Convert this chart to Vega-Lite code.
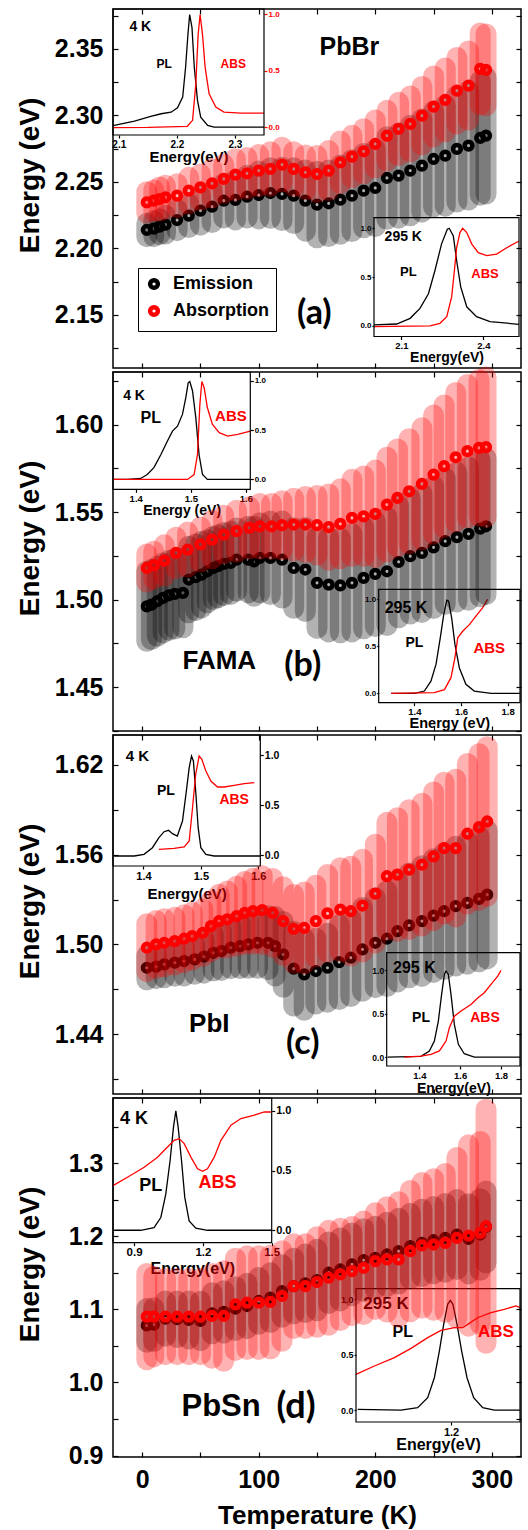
{
"$schema":"https://vega.github.io/schema/vega-lite/v6.json",
"background":"white",
"padding":{"left":15,"top":7,"right":7,"bottom":2},
"spacing":4,
"bounds":"flush",
"config":{
 "view":{"stroke":"#000","strokeWidth":1.5},
 "axis":{"labelFont":"Liberation Sans","titleFont":"Liberation Sans","labelFontWeight":"bold","titleFontWeight":"bold","grid":false,"domain":false,"labelColor":"#000","tickColor":"#000","titleColor":"#000","labelOverlap":false,"labelFlush":false,"tickWidth":1.2},
 "text":{"font":"Liberation Sans","fontWeight":"bold","align":"center","baseline":"middle"}
},
"resolve":{"scale":{"color":"independent"}},
"datasets":{
"a":[
{"s":"Emission","T":4,"E":2.2138,"err":0.005},{"s":"Emission","T":10,"E":2.2148,"err":0.006},{"s":"Emission","T":15,"E":2.2163,"err":0.006},{"s":"Emission","T":20,"E":2.2178,"err":0.007},{"s":"Emission","T":30,"E":2.2213,"err":0.008},{"s":"Emission","T":40,"E":2.2246,"err":0.009},{"s":"Emission","T":50,"E":2.2284,"err":0.011},{"s":"Emission","T":60,"E":2.2314,"err":0.012},{"s":"Emission","T":70,"E":2.2359,"err":0.013},{"s":"Emission","T":80,"E":2.2364,"err":0.015},{"s":"Emission","T":90,"E":2.2389,"err":0.016},{"s":"Emission","T":100,"E":2.2401,"err":0.018},{"s":"Emission","T":110,"E":2.2416,"err":0.019},{"s":"Emission","T":120,"E":2.2409,"err":0.02},{"s":"Emission","T":130,"E":2.2396,"err":0.021},{"s":"Emission","T":140,"E":2.2359,"err":0.023},{"s":"Emission","T":150,"E":2.2329,"err":0.025},{"s":"Emission","T":160,"E":2.2339,"err":0.025},{"s":"Emission","T":170,"E":2.2366,"err":0.026},{"s":"Emission","T":180,"E":2.2396,"err":0.027},{"s":"Emission","T":190,"E":2.2434,"err":0.028},{"s":"Emission","T":200,"E":2.2454,"err":0.029},{"s":"Emission","T":210,"E":2.2529,"err":0.031},{"s":"Emission","T":220,"E":2.2547,"err":0.032},{"s":"Emission","T":230,"E":2.2585,"err":0.034},{"s":"Emission","T":240,"E":2.2622,"err":0.035},{"s":"Emission","T":250,"E":2.2672,"err":0.036},{"s":"Emission","T":260,"E":2.2697,"err":0.038},{"s":"Emission","T":270,"E":2.2748,"err":0.04},{"s":"Emission","T":280,"E":2.2773,"err":0.041},{"s":"Emission","T":290,"E":2.283,"err":0.043},{"s":"Emission","T":295,"E":2.2848,"err":0.044},
{"s":"Absorption","T":4,"E":2.2346,"err":0.008},{"s":"Absorption","T":10,"E":2.2359,"err":0.008},{"s":"Absorption","T":15,"E":2.2371,"err":0.009},{"s":"Absorption","T":20,"E":2.2384,"err":0.009},{"s":"Absorption","T":30,"E":2.2396,"err":0.009},{"s":"Absorption","T":40,"E":2.2434,"err":0.01},{"s":"Absorption","T":50,"E":2.2459,"err":0.01},{"s":"Absorption","T":60,"E":2.2489,"err":0.011},{"s":"Absorption","T":70,"E":2.2522,"err":0.011},{"s":"Absorption","T":80,"E":2.2554,"err":0.012},{"s":"Absorption","T":90,"E":2.2564,"err":0.012},{"s":"Absorption","T":100,"E":2.2585,"err":0.012},{"s":"Absorption","T":110,"E":2.2597,"err":0.013},{"s":"Absorption","T":120,"E":2.263,"err":0.013},{"s":"Absorption","T":130,"E":2.2597,"err":0.013},{"s":"Absorption","T":140,"E":2.2572,"err":0.013},{"s":"Absorption","T":150,"E":2.2559,"err":0.014},{"s":"Absorption","T":160,"E":2.2585,"err":0.015},{"s":"Absorption","T":170,"E":2.2647,"err":0.016},{"s":"Absorption","T":180,"E":2.269,"err":0.016},{"s":"Absorption","T":190,"E":2.273,"err":0.017},{"s":"Absorption","T":200,"E":2.2785,"err":0.018},{"s":"Absorption","T":210,"E":2.2848,"err":0.019},{"s":"Absorption","T":220,"E":2.2898,"err":0.02},{"s":"Absorption","T":230,"E":2.2936,"err":0.021},{"s":"Absorption","T":240,"E":2.2998,"err":0.022},{"s":"Absorption","T":250,"E":2.3066,"err":0.023},{"s":"Absorption","T":260,"E":2.3116,"err":0.024},{"s":"Absorption","T":270,"E":2.3186,"err":0.025},{"s":"Absorption","T":280,"E":2.3224,"err":0.026},{"s":"Absorption","T":290,"E":2.335,"err":0.027},{"s":"Absorption","T":295,"E":2.3342,"err":0.027}
],
"b":[
{"s":"Emission","T":4,"E":1.4962,"err":0.02},{"s":"Emission","T":8,"E":1.4972,"err":0.02},{"s":"Emission","T":13,"E":1.4991,"err":0.02},{"s":"Emission","T":18,"E":1.501,"err":0.02},{"s":"Emission","T":23,"E":1.5025,"err":0.02},{"s":"Emission","T":28,"E":1.5033,"err":0.02},{"s":"Emission","T":35,"E":1.5039,"err":0.02},{"s":"Emission","T":40,"E":1.5115,"err":0.019},{"s":"Emission","T":46,"E":1.5128,"err":0.019},{"s":"Emission","T":51,"E":1.5143,"err":0.019},{"s":"Emission","T":56,"E":1.5162,"err":0.018},{"s":"Emission","T":61,"E":1.5181,"err":0.018},{"s":"Emission","T":65,"E":1.5191,"err":0.018},{"s":"Emission","T":70,"E":1.5204,"err":0.018},{"s":"Emission","T":76,"E":1.521,"err":0.018},{"s":"Emission","T":81,"E":1.5229,"err":0.018},{"s":"Emission","T":91,"E":1.5229,"err":0.019},{"s":"Emission","T":96,"E":1.5219,"err":0.02},{"s":"Emission","T":101,"E":1.5239,"err":0.02},{"s":"Emission","T":110,"E":1.5239,"err":0.021},{"s":"Emission","T":120,"E":1.5229,"err":0.022},{"s":"Emission","T":130,"E":1.5181,"err":0.023},{"s":"Emission","T":140,"E":1.5172,"err":0.024},{"s":"Emission","T":150,"E":1.5096,"err":0.026},{"s":"Emission","T":160,"E":1.5086,"err":0.027},{"s":"Emission","T":170,"E":1.5081,"err":0.027},{"s":"Emission","T":180,"E":1.5096,"err":0.028},{"s":"Emission","T":190,"E":1.5124,"err":0.029},{"s":"Emission","T":200,"E":1.5147,"err":0.03},{"s":"Emission","T":210,"E":1.5162,"err":0.031},{"s":"Emission","T":220,"E":1.5216,"err":0.032},{"s":"Emission","T":230,"E":1.5248,"err":0.033},{"s":"Emission","T":240,"E":1.5267,"err":0.034},{"s":"Emission","T":250,"E":1.5299,"err":0.035},{"s":"Emission","T":260,"E":1.5334,"err":0.036},{"s":"Emission","T":270,"E":1.5357,"err":0.037},{"s":"Emission","T":280,"E":1.5376,"err":0.038},{"s":"Emission","T":290,"E":1.5406,"err":0.039},{"s":"Emission","T":295,"E":1.5419,"err":0.039},
{"s":"Absorption","T":4,"E":1.5181,"err":0.008},{"s":"Absorption","T":10,"E":1.5197,"err":0.008},{"s":"Absorption","T":19,"E":1.5223,"err":0.009},{"s":"Absorption","T":29,"E":1.5267,"err":0.009},{"s":"Absorption","T":39,"E":1.5286,"err":0.01},{"s":"Absorption","T":50,"E":1.5315,"err":0.01},{"s":"Absorption","T":60,"E":1.5343,"err":0.011},{"s":"Absorption","T":70,"E":1.5372,"err":0.011},{"s":"Absorption","T":81,"E":1.5391,"err":0.012},{"s":"Absorption","T":92,"E":1.541,"err":0.012},{"s":"Absorption","T":101,"E":1.5419,"err":0.013},{"s":"Absorption","T":111,"E":1.5419,"err":0.013},{"s":"Absorption","T":120,"E":1.5425,"err":0.014},{"s":"Absorption","T":130,"E":1.5429,"err":0.015},{"s":"Absorption","T":140,"E":1.5429,"err":0.016},{"s":"Absorption","T":150,"E":1.5425,"err":0.017},{"s":"Absorption","T":160,"E":1.5414,"err":0.019},{"s":"Absorption","T":170,"E":1.5433,"err":0.02},{"s":"Absorption","T":180,"E":1.5467,"err":0.022},{"s":"Absorption","T":190,"E":1.5476,"err":0.023},{"s":"Absorption","T":200,"E":1.549,"err":0.025},{"s":"Absorption","T":210,"E":1.5543,"err":0.027},{"s":"Absorption","T":219,"E":1.5581,"err":0.028},{"s":"Absorption","T":229,"E":1.5619,"err":0.03},{"s":"Absorption","T":240,"E":1.5661,"err":0.032},{"s":"Absorption","T":250,"E":1.5714,"err":0.034},{"s":"Absorption","T":259,"E":1.5762,"err":0.035},{"s":"Absorption","T":269,"E":1.5813,"err":0.037},{"s":"Absorption","T":279,"E":1.5848,"err":0.038},{"s":"Absorption","T":289,"E":1.5867,"err":0.039},{"s":"Absorption","T":295,"E":1.5871,"err":0.04}
],
"c":[
{"s":"Emission","T":4,"E":1.4844,"err":0.008},{"s":"Emission","T":12,"E":1.4851,"err":0.008},{"s":"Emission","T":19,"E":1.4867,"err":0.009},{"s":"Emission","T":28,"E":1.4878,"err":0.009},{"s":"Emission","T":36,"E":1.4889,"err":0.01},{"s":"Emission","T":45,"E":1.49,"err":0.01},{"s":"Emission","T":53,"E":1.4918,"err":0.011},{"s":"Emission","T":61,"E":1.4944,"err":0.012},{"s":"Emission","T":68,"E":1.4956,"err":0.013},{"s":"Emission","T":76,"E":1.4978,"err":0.014},{"s":"Emission","T":84,"E":1.4989,"err":0.015},{"s":"Emission","T":91,"E":1.5,"err":0.016},{"s":"Emission","T":99,"E":1.5011,"err":0.017},{"s":"Emission","T":108,"E":1.5011,"err":0.018},{"s":"Emission","T":114,"E":1.4989,"err":0.02},{"s":"Emission","T":121,"E":1.4933,"err":0.022},{"s":"Emission","T":130,"E":1.4838,"err":0.025},{"s":"Emission","T":139,"E":1.48,"err":0.024},{"s":"Emission","T":149,"E":1.4822,"err":0.022},{"s":"Emission","T":159,"E":1.4844,"err":0.023},{"s":"Emission","T":169,"E":1.4882,"err":0.025},{"s":"Emission","T":179,"E":1.4911,"err":0.026},{"s":"Emission","T":189,"E":1.4967,"err":0.028},{"s":"Emission","T":200,"E":1.5011,"err":0.03},{"s":"Emission","T":210,"E":1.5038,"err":0.032},{"s":"Emission","T":219,"E":1.5089,"err":0.034},{"s":"Emission","T":229,"E":1.5127,"err":0.035},{"s":"Emission","T":240,"E":1.5156,"err":0.037},{"s":"Emission","T":250,"E":1.5193,"err":0.038},{"s":"Emission","T":259,"E":1.5222,"err":0.039},{"s":"Emission","T":269,"E":1.5256,"err":0.04},{"s":"Emission","T":279,"E":1.5278,"err":0.041},{"s":"Emission","T":289,"E":1.5304,"err":0.042},{"s":"Emission","T":296,"E":1.5333,"err":0.043},
{"s":"Absorption","T":4,"E":1.4978,"err":0.016},{"s":"Absorption","T":12,"E":1.5,"err":0.016},{"s":"Absorption","T":19,"E":1.5011,"err":0.016},{"s":"Absorption","T":28,"E":1.5022,"err":0.016},{"s":"Absorption","T":36,"E":1.5038,"err":0.016},{"s":"Absorption","T":43,"E":1.5056,"err":0.016},{"s":"Absorption","T":52,"E":1.5078,"err":0.016},{"s":"Absorption","T":59,"E":1.5122,"err":0.017},{"s":"Absorption","T":66,"E":1.5156,"err":0.018},{"s":"Absorption","T":73,"E":1.5167,"err":0.019},{"s":"Absorption","T":81,"E":1.5189,"err":0.02},{"s":"Absorption","T":88,"E":1.5211,"err":0.021},{"s":"Absorption","T":95,"E":1.5222,"err":0.022},{"s":"Absorption","T":103,"E":1.5229,"err":0.023},{"s":"Absorption","T":112,"E":1.5211,"err":0.023},{"s":"Absorption","T":121,"E":1.5156,"err":0.023},{"s":"Absorption","T":130,"E":1.5104,"err":0.023},{"s":"Absorption","T":139,"E":1.5111,"err":0.024},{"s":"Absorption","T":149,"E":1.5156,"err":0.024},{"s":"Absorption","T":159,"E":1.5207,"err":0.026},{"s":"Absorption","T":170,"E":1.5233,"err":0.028},{"s":"Absorption","T":179,"E":1.5222,"err":0.03},{"s":"Absorption","T":189,"E":1.526,"err":0.031},{"s":"Absorption","T":200,"E":1.534,"err":0.033},{"s":"Absorption","T":210,"E":1.5456,"err":0.036},{"s":"Absorption","T":219,"E":1.5467,"err":0.038},{"s":"Absorption","T":229,"E":1.55,"err":0.04},{"s":"Absorption","T":240,"E":1.5533,"err":0.041},{"s":"Absorption","T":250,"E":1.5589,"err":0.043},{"s":"Absorption","T":259,"E":1.5644,"err":0.044},{"s":"Absorption","T":269,"E":1.5644,"err":0.046},{"s":"Absorption","T":279,"E":1.574,"err":0.047},{"s":"Absorption","T":289,"E":1.5784,"err":0.049},{"s":"Absorption","T":296,"E":1.5822,"err":0.05}
],
"d":[
{"s":"Emission","T":4,"E":1.078,"err":0.023},{"s":"Emission","T":10,"E":1.079,"err":0.023},{"s":"Emission","T":20,"E":1.0873,"err":0.024},{"s":"Emission","T":30,"E":1.0864,"err":0.025},{"s":"Emission","T":40,"E":1.0855,"err":0.026},{"s":"Emission","T":50,"E":1.0841,"err":0.027},{"s":"Emission","T":60,"E":1.0945,"err":0.028},{"s":"Emission","T":70,"E":1.0964,"err":0.029},{"s":"Emission","T":80,"E":1.1009,"err":0.03},{"s":"Emission","T":90,"E":1.1045,"err":0.031},{"s":"Emission","T":100,"E":1.1114,"err":0.032},{"s":"Emission","T":110,"E":1.1159,"err":0.034},{"s":"Emission","T":120,"E":1.125,"err":0.036},{"s":"Emission","T":130,"E":1.1318,"err":0.038},{"s":"Emission","T":140,"E":1.1355,"err":0.04},{"s":"Emission","T":150,"E":1.14,"err":0.042},{"s":"Emission","T":160,"E":1.15,"err":0.042},{"s":"Emission","T":170,"E":1.1545,"err":0.043},{"s":"Emission","T":180,"E":1.1614,"err":0.043},{"s":"Emission","T":190,"E":1.1673,"err":0.043},{"s":"Emission","T":200,"E":1.1705,"err":0.043},{"s":"Emission","T":210,"E":1.175,"err":0.044},{"s":"Emission","T":220,"E":1.1795,"err":0.045},{"s":"Emission","T":230,"E":1.1864,"err":0.045},{"s":"Emission","T":240,"E":1.1909,"err":0.046},{"s":"Emission","T":250,"E":1.1945,"err":0.046},{"s":"Emission","T":260,"E":1.1977,"err":0.047},{"s":"Emission","T":270,"E":1.2023,"err":0.048},{"s":"Emission","T":280,"E":1.1964,"err":0.048},{"s":"Emission","T":290,"E":1.2023,"err":0.049},{"s":"Emission","T":295,"E":1.2127,"err":0.049},
{"s":"Absorption","T":4,"E":1.09,"err":0.059},{"s":"Absorption","T":10,"E":1.09,"err":0.055},{"s":"Absorption","T":20,"E":1.09,"err":0.052},{"s":"Absorption","T":30,"E":1.09,"err":0.052},{"s":"Absorption","T":40,"E":1.09,"err":0.052},{"s":"Absorption","T":50,"E":1.09,"err":0.052},{"s":"Absorption","T":60,"E":1.0909,"err":0.058},{"s":"Absorption","T":70,"E":1.0909,"err":0.062},{"s":"Absorption","T":80,"E":1.1068,"err":0.063},{"s":"Absorption","T":90,"E":1.1091,"err":0.064},{"s":"Absorption","T":100,"E":1.1091,"err":0.064},{"s":"Absorption","T":110,"E":1.11,"err":0.064},{"s":"Absorption","T":120,"E":1.1182,"err":0.062},{"s":"Absorption","T":130,"E":1.1318,"err":0.058},{"s":"Absorption","T":140,"E":1.1318,"err":0.058},{"s":"Absorption","T":150,"E":1.1373,"err":0.062},{"s":"Absorption","T":160,"E":1.1432,"err":0.065},{"s":"Absorption","T":170,"E":1.1477,"err":0.063},{"s":"Absorption","T":180,"E":1.1523,"err":0.061},{"s":"Absorption","T":190,"E":1.1568,"err":0.064},{"s":"Absorption","T":200,"E":1.1659,"err":0.066},{"s":"Absorption","T":210,"E":1.1682,"err":0.072},{"s":"Absorption","T":220,"E":1.1682,"err":0.079},{"s":"Absorption","T":230,"E":1.1795,"err":0.083},{"s":"Absorption","T":240,"E":1.1873,"err":0.086},{"s":"Absorption","T":250,"E":1.1886,"err":0.09},{"s":"Absorption","T":260,"E":1.1909,"err":0.095},{"s":"Absorption","T":270,"E":1.1977,"err":0.11},{"s":"Absorption","T":280,"E":1.2009,"err":0.124},{"s":"Absorption","T":290,"E":1.2045,"err":0.125},{"s":"Absorption","T":295,"E":1.2136,"err":0.16}
]
},
"vconcat":[
{
"width":408,"height":359,
"resolve":{"scale":{"x":"independent","y":"independent"},"axis":{"x":"independent","y":"independent"}},
"layer":[
 {
 "data":{"values":[
  {"c":"PL","E":2.09,"I":0.013},{"c":"PL","E":2.127,"I":0.053},{"c":"PL","E":2.155,"I":0.094},{"c":"PL","E":2.173,"I":0.118},{"c":"PL","E":2.19,"I":0.132},{"c":"PL","E":2.201,"I":0.171},{"c":"PL","E":2.21,"I":0.265},{"c":"PL","E":2.215,"I":0.53},{"c":"PL","E":2.219,"I":0.82},{"c":"PL","E":2.222,"I":0.995},{"c":"PL","E":2.226,"I":0.88},{"c":"PL","E":2.23,"I":0.53},{"c":"PL","E":2.2355,"I":0.236},{"c":"PL","E":2.241,"I":0.088},{"c":"PL","E":2.253,"I":0.015},{"c":"PL","E":2.264,"I":0.0},{"c":"PL","E":2.35,"I":0.0},
  {"c":"ABS","E":2.09,"I":-0.005},{"c":"ABS","E":2.15,"I":-0.003},{"c":"ABS","E":2.218,"I":0.007},{"c":"ABS","E":2.227,"I":0.06},{"c":"ABS","E":2.2326,"I":0.38},{"c":"ABS","E":2.2366,"I":0.82},{"c":"ABS","E":2.24,"I":0.995},{"c":"ABS","E":2.2441,"I":0.82},{"c":"ABS","E":2.2486,"I":0.53},{"c":"ABS","E":2.2555,"I":0.295},{"c":"ABS","E":2.267,"I":0.177},{"c":"ABS","E":2.281,"I":0.132},{"c":"ABS","E":2.31,"I":0.124},{"c":"ABS","E":2.35,"I":0.124}
 ]},
 "layer":[
  {"transform":[{"filter":"datum.c==='PL'"}],"mark":{"type":"line","color":"#000","strokeWidth":1.3},"encoding":{
   "x":{"field":"E","type":"quantitative","scale":{"domain":[2.09,2.35],"range":[0,151],"nice":false,"zero":false},"axis":{"orient":"bottom","offset":-233,"values":[2.1,2.2,2.3],"format":".1f","labelFontSize":10,"tickSize":3,"labelPadding":1,"title":"Energy(eV)","titleFontSize":15,"titleY":26,"titleBaseline":"alphabetic"}},
   "y":{"field":"I","type":"quantitative","scale":{"domain":[-0.07,1.045],"range":[126,0],"nice":false,"zero":false},"axis":{"orient":"right","offset":-257,"values":[0,0.5,1],"format":".1f","labelFontSize":8,"labelColor":"#f00","tickColor":"#f00","tickSize":3,"labelPadding":1,"title":null}}}},
  {"transform":[{"filter":"datum.c==='ABS'"}],"mark":{"type":"line","color":"#f00","strokeWidth":1.3},"encoding":{"x":{"field":"E","type":"quantitative"},"y":{"field":"I","type":"quantitative"}}},
  {"transform":[{"aggregate":[{"op":"count","as":"n"}]}],"mark":{"type":"rect","fill":"transparent","stroke":"#000","strokeWidth":1.2},"encoding":{"x":{"datum":2.09},"x2":{"datum":2.35},"y":{"datum":-0.07},"y2":{"datum":1.045}}},
  {"transform":[{"aggregate":[{"op":"count","as":"n"}]}],"mark":{"type":"text","text":"4 K","fontSize":14},"encoding":{"x":{"datum":2.137},"y":{"datum":0.883}}},
  {"transform":[{"aggregate":[{"op":"count","as":"n"}]}],"mark":{"type":"text","text":"PL","fontSize":12},"encoding":{"x":{"datum":2.178},"y":{"datum":0.56}}},
  {"transform":[{"aggregate":[{"op":"count","as":"n"}]}],"mark":{"type":"text","text":"ABS","fontSize":12,"color":"#f00"},"encoding":{"x":{"datum":2.297},"y":{"datum":0.56}}}
 ]
 },
 {
 "data":{"values":[
  {"c":"PL","E":2.0,"I":0.01},{"c":"PL","E":2.083,"I":0.02},{"c":"PL","E":2.132,"I":0.078},{"c":"PL","E":2.168,"I":0.18},{"c":"PL","E":2.199,"I":0.33},{"c":"PL","E":2.223,"I":0.57},{"c":"PL","E":2.247,"I":0.84},{"c":"PL","E":2.268,"I":0.99},{"c":"PL","E":2.275,"I":1.0},{"c":"PL","E":2.29,"I":0.92},{"c":"PL","E":2.302,"I":0.67},{"c":"PL","E":2.317,"I":0.4},{"c":"PL","E":2.339,"I":0.196},{"c":"PL","E":2.375,"I":0.095},{"c":"PL","E":2.424,"I":0.044},{"c":"PL","E":2.53,"I":0.017},
  {"c":"ABS","E":2.0,"I":-0.007},{"c":"ABS","E":2.205,"I":0.0},{"c":"ABS","E":2.241,"I":0.027},{"c":"ABS","E":2.266,"I":0.095},{"c":"ABS","E":2.284,"I":0.3},{"c":"ABS","E":2.294,"I":0.57},{"c":"ABS","E":2.302,"I":0.8},{"c":"ABS","E":2.314,"I":0.956},{"c":"ABS","E":2.324,"I":1.0},{"c":"ABS","E":2.339,"I":0.956},{"c":"ABS","E":2.357,"I":0.84},{"c":"ABS","E":2.381,"I":0.75},{"c":"ABS","E":2.412,"I":0.72},{"c":"ABS","E":2.448,"I":0.736},{"c":"ABS","E":2.485,"I":0.8},{"c":"ABS","E":2.53,"I":0.87}
 ]},
 "layer":[
  {"transform":[{"filter":"datum.c==='PL'"}],"mark":{"type":"line","color":"#000","strokeWidth":1.3},"encoding":{
   "x":{"field":"E","type":"quantitative","scale":{"domain":[2.0,2.53],"range":[261,406],"nice":false,"zero":false},"axis":{"orient":"bottom","offset":-31.5,"values":[2.1,2.4],"format":".1f","labelFontSize":9.5,"tickSize":3,"labelPadding":1,"title":"Energy(eV)","titleFontSize":14,"titleY":25,"titleBaseline":"alphabetic"}},
   "y":{"field":"I","type":"quantitative","scale":{"domain":[-0.108,1.108],"range":[327.5,208.7],"nice":false,"zero":false},"axis":{"orient":"left","offset":-261,"values":[0,0.5,1],"format":".1f","labelFontSize":8,"tickSize":2,"labelPadding":1,"title":null}}}},
  {"transform":[{"filter":"datum.c==='ABS'"}],"mark":{"type":"line","color":"#f00","strokeWidth":1.3},"encoding":{"x":{"field":"E","type":"quantitative"},"y":{"field":"I","type":"quantitative"}}},
  {"transform":[{"aggregate":[{"op":"count","as":"n"}]}],"mark":{"type":"rect","fill":"transparent","stroke":"#000","strokeWidth":1.2},"encoding":{"x":{"datum":2.0},"x2":{"datum":2.53},"y":{"datum":-0.108},"y2":{"datum":1.108}}},
  {"transform":[{"aggregate":[{"op":"count","as":"n"}]}],"mark":{"type":"text","text":"295 K","fontSize":14},"encoding":{"x":{"datum":2.107},"y":{"datum":0.912}}},
  {"transform":[{"aggregate":[{"op":"count","as":"n"}]}],"mark":{"type":"text","text":"PL","fontSize":13},"encoding":{"x":{"datum":2.1255},"y":{"datum":0.55}}},
  {"transform":[{"aggregate":[{"op":"count","as":"n"}]}],"mark":{"type":"text","text":"ABS","fontSize":13,"color":"#f00"},"encoding":{"x":{"datum":2.4057},"y":{"datum":0.534}}}
 ]
 },
 {
 "data":{"name":"a"},
 "layer":[
  {"transform":[{"filter":"datum.s==='Emission'"}],"mark":{"type":"errorbar","ticks":false,"rule":{"strokeWidth":21,"strokeCap":"round","opacity":0.3,"color":"#000"}},"encoding":{
   "x":{"field":"T","type":"quantitative","title":null,"scale":{"domain":[-25,325],"nice":false,"zero":false},"axis":{"orient":"bottom","values":[0,50,100,150,200,250,300],"labels":false,"tickSize":-5,"title":null}},
   "y":{"field":"E","type":"quantitative","title":"Energy (eV)","scale":{"domain":[2.11,2.38],"nice":false,"zero":false},"axis":{"orient":"left","values":[2.15,2.2,2.25,2.3,2.35],"format":".2f","labelFontSize":25,"tickSize":-5,"labelPadding":15,"title":"Energy (eV)","titleFontSize":28,"titleX":-75,"titleY":166,"titleBaseline":"alphabetic","titleAlign":"center","titleAngle":-90}},
   "yError":{"field":"err"}}},
  {"transform":[{"filter":"datum.s==='Emission'"}],"mark":{"type":"point","filled":false,"strokeWidth":4.5,"size":60,"opacity":1},"encoding":{"x":{"field":"T","type":"quantitative","title":null},"y":{"field":"E","type":"quantitative","title":"Energy (eV)"},"color":{"field":"s","type":"nominal","scale":{"domain":["Emission","Absorption"],"range":["#000","#f00"]},"legend":{"orient":"none","legendX":25,"legendY":259,"title":null,"strokeColor":"#000","fillColor":"#fff","padding":7,"labelFont":"Liberation Sans","labelFontSize":18,"labelFontWeight":"bold","labelColor":"#000","symbolType":"circle","symbolSize":60,"symbolStrokeWidth":4.5,"rowPadding":1,"labelOffset":10}}}},
  {"transform":[{"filter":"datum.s==='Absorption'"}],"mark":{"type":"errorbar","ticks":false,"rule":{"strokeWidth":21,"strokeCap":"round","opacity":0.3,"color":"#f00"}},"encoding":{"x":{"field":"T","type":"quantitative","title":null},"y":{"field":"E","type":"quantitative","title":"Energy (eV)"},"yError":{"field":"err"}}},
  {"transform":[{"filter":"datum.s==='Absorption'"}],"mark":{"type":"point","filled":false,"strokeWidth":4.5,"size":60,"opacity":1},"encoding":{"x":{"field":"T","type":"quantitative","title":null},"y":{"field":"E","type":"quantitative","title":"Energy (eV)"},"color":{"field":"s","type":"nominal","scale":{"domain":["Emission","Absorption"],"range":["#000","#f00"]},"legend":{"orient":"none","legendX":25,"legendY":259,"title":null,"strokeColor":"#000","fillColor":"#fff","padding":7,"labelFont":"Liberation Sans","labelFontSize":18,"labelFontWeight":"bold","labelColor":"#000","symbolType":"circle","symbolSize":60,"symbolStrokeWidth":4.5,"rowPadding":1,"labelOffset":10}}}},
  {"transform":[{"aggregate":[{"op":"count","as":"n"}]}],"mark":{"type":"text","text":"PbBr","fontSize":25},"encoding":{"x":{"datum":177.8},"y":{"datum":2.3512}}},
  {"transform":[{"aggregate":[{"op":"count","as":"n"}]}],"mark":{"type":"text","text":"(a)","fontSize":34,"font":"Lato"},"encoding":{"x":{"datum":147.7},"y":{"datum":2.1506}}}
 ]
 },
 {"data":{"name":"a"},"transform":[{"aggregate":[{"op":"count","as":"n"}]}],"mark":{"type":"point","opacity":0},"encoding":{
  "x":{"datum":0,"type":"quantitative","scale":{"domain":[-25,325],"nice":false,"zero":false},"axis":{"orient":"top","values":[0,50,100,150,200,250,300],"labels":false,"tickSize":-5,"title":null}},
  "y":{"datum":2.2,"type":"quantitative","scale":{"domain":[2.11,2.38],"nice":false,"zero":false},"axis":{"orient":"right","values":[2.125,2.15,2.175,2.2,2.225,2.25,2.275,2.3,2.325,2.35,2.375],"labels":false,"tickSize":-5,"title":null}}}},
 {"data":{"name":"a"},"transform":[{"aggregate":[{"op":"count","as":"n"}]}],"mark":{"type":"point","opacity":0},"encoding":{
  "y":{"datum":2.2,"type":"quantitative","scale":{"domain":[2.11,2.38],"nice":false,"zero":false},"axis":{"orient":"left","values":[2.125,2.175,2.225,2.275,2.325,2.375],"labels":false,"tickSize":-5,"title":null}}}}
]
},
{
"width":408,"height":359,
"resolve":{"scale":{"x":"independent","y":"independent"},"axis":{"x":"independent","y":"independent"}},
"layer":[
 {
 "data":{"values":[
  {"c":"PL","E":1.3588,"I":0},{"c":"PL","E":1.385,"I":0},{"c":"PL","E":1.409,"I":0.01},{"c":"PL","E":1.421,"I":0.05},{"c":"PL","E":1.433,"I":0.12},{"c":"PL","E":1.4455,"I":0.25},{"c":"PL","E":1.4576,"I":0.39},{"c":"PL","E":1.4667,"I":0.49},{"c":"PL","E":1.4758,"I":0.54},{"c":"PL","E":1.4848,"I":0.66},{"c":"PL","E":1.4909,"I":0.83},{"c":"PL","E":1.4952,"I":0.98},{"c":"PL","E":1.4982,"I":0.993},{"c":"PL","E":1.503,"I":0.9},{"c":"PL","E":1.509,"I":0.63},{"c":"PL","E":1.515,"I":0.25},{"c":"PL","E":1.5212,"I":0.05},{"c":"PL","E":1.53,"I":0},{"c":"PL","E":1.6079,"I":0},
  {"c":"ABS","E":1.3588,"I":0},{"c":"ABS","E":1.494,"I":0},{"c":"ABS","E":1.506,"I":0.05},{"c":"ABS","E":1.512,"I":0.25},{"c":"ABS","E":1.5164,"I":0.76},{"c":"ABS","E":1.52,"I":0.993},{"c":"ABS","E":1.5242,"I":0.93},{"c":"ABS","E":1.53,"I":0.73},{"c":"ABS","E":1.539,"I":0.56},{"c":"ABS","E":1.5515,"I":0.475},{"c":"ABS","E":1.5667,"I":0.44},{"c":"ABS","E":1.585,"I":0.458},{"c":"ABS","E":1.6079,"I":0.49}
 ]},
 "layer":[
  {"transform":[{"filter":"datum.c==='PL'"}],"mark":{"type":"line","color":"#000","strokeWidth":1.3},"encoding":{
   "x":{"field":"E","type":"quantitative","scale":{"domain":[1.3588,1.6079],"range":[0,137.3],"nice":false,"zero":false},"axis":{"orient":"bottom","offset":-241.7,"values":[1.4,1.5,1.6],"format":".1f","labelFontSize":9.5,"tickSize":3,"labelPadding":1,"title":"Energy (eV)","titleFontSize":14,"titleY":24.7,"titleBaseline":"alphabetic"}},
   "y":{"field":"I","type":"quantitative","scale":{"domain":[-0.1,1.09],"range":[117.3,0],"nice":false,"zero":false},"axis":{"orient":"right","offset":-270.7,"values":[0,0.5,1],"format":".1f","labelFontSize":8,"tickSize":3,"labelPadding":1,"title":null}}}},
  {"transform":[{"filter":"datum.c==='ABS'"}],"mark":{"type":"line","color":"#f00","strokeWidth":1.3},"encoding":{"x":{"field":"E","type":"quantitative"},"y":{"field":"I","type":"quantitative"}}},
  {"transform":[{"aggregate":[{"op":"count","as":"n"}]}],"mark":{"type":"rect","fill":"transparent","stroke":"#000","strokeWidth":1.2},"encoding":{"x":{"datum":1.3588},"x2":{"datum":1.6079},"y":{"datum":-0.1},"y2":{"datum":1.09}}},
  {"transform":[{"aggregate":[{"op":"count","as":"n"}]}],"mark":{"type":"text","text":"4 K","fontSize":14},"encoding":{"x":{"datum":1.397},"y":{"datum":0.847}}},
  {"transform":[{"aggregate":[{"op":"count","as":"n"}]}],"mark":{"type":"text","text":"PL","fontSize":16},"encoding":{"x":{"datum":1.4273},"y":{"datum":0.627}}},
  {"transform":[{"aggregate":[{"op":"count","as":"n"}]}],"mark":{"type":"text","text":"ABS","fontSize":15,"color":"#f00"},"encoding":{"x":{"datum":1.5727},"y":{"datum":0.644}}}
 ]
 },
 {
 "data":{"values":[
  {"c":"PL","E":1.3,"I":0},{"c":"PL","E":1.4,"I":0},{"c":"PL","E":1.443,"I":0.025},{"c":"PL","E":1.471,"I":0.13},{"c":"PL","E":1.493,"I":0.31},{"c":"PL","E":1.511,"I":0.59},{"c":"PL","E":1.526,"I":0.84},{"c":"PL","E":1.539,"I":0.99},{"c":"PL","E":1.547,"I":0.98},{"c":"PL","E":1.56,"I":0.8},{"c":"PL","E":1.574,"I":0.52},{"c":"PL","E":1.593,"I":0.27},{"c":"PL","E":1.621,"I":0.096},{"c":"PL","E":1.657,"I":0.025},{"c":"PL","E":1.729,"I":0},{"c":"PL","E":1.853,"I":0},
  {"c":"ABS","E":1.3,"I":0},{"c":"ABS","E":1.486,"I":0.007},{"c":"ABS","E":1.529,"I":0.04},{"c":"ABS","E":1.557,"I":0.167},{"c":"ABS","E":1.574,"I":0.38},{"c":"ABS","E":1.586,"I":0.59},{"c":"ABS","E":1.607,"I":0.66},{"c":"ABS","E":1.636,"I":0.73},{"c":"ABS","E":1.664,"I":0.82},{"c":"ABS","E":1.693,"I":0.91},{"c":"ABS","E":1.714,"I":1.0}
 ]},
 "layer":[
  {"transform":[{"filter":"datum.c==='PL'"}],"mark":{"type":"line","color":"#000","strokeWidth":1.3},"encoding":{
   "x":{"field":"E","type":"quantitative","scale":{"domain":[1.247,1.853],"range":[265.7,407],"nice":false,"zero":false},"axis":{"orient":"bottom","offset":-28.3,"values":[1.4,1.6,1.8],"format":".1f","labelFontSize":9.5,"tickSize":3,"labelPadding":1,"title":"Energy (eV)","titleFontSize":14.5,"titleY":25,"titleBaseline":"alphabetic"}},
   "y":{"field":"I","type":"quantitative","scale":{"domain":[-0.099,1.106],"range":[330.7,217.3],"nice":false,"zero":false},"axis":{"orient":"left","offset":-265.7,"values":[0,0.5,1],"format":".1f","labelFontSize":8,"tickSize":2,"labelPadding":1,"title":null}}}},
  {"transform":[{"filter":"datum.c==='ABS'"}],"mark":{"type":"line","color":"#f00","strokeWidth":1.3},"encoding":{"x":{"field":"E","type":"quantitative"},"y":{"field":"I","type":"quantitative"}}},
  {"transform":[{"aggregate":[{"op":"count","as":"n"}]}],"mark":{"type":"rect","fill":"transparent","stroke":"#000","strokeWidth":1.2},"encoding":{"x":{"datum":1.247},"x2":{"datum":1.853},"y":{"datum":-0.099},"y2":{"datum":1.106}}},
  {"transform":[{"aggregate":[{"op":"count","as":"n"}]}],"mark":{"type":"text","text":"295 K","fontSize":16},"encoding":{"x":{"datum":1.364},"y":{"datum":0.904}}},
  {"transform":[{"aggregate":[{"op":"count","as":"n"}]}],"mark":{"type":"text","text":"PL","fontSize":14},"encoding":{"x":{"datum":1.4},"y":{"datum":0.539}}},
  {"transform":[{"aggregate":[{"op":"count","as":"n"}]}],"mark":{"type":"text","text":"ABS","fontSize":15,"color":"#f00"},"encoding":{"x":{"datum":1.721},"y":{"datum":0.479}}}
 ]
 },
 {
 "data":{"name":"b"},
 "layer":[
  {"transform":[{"filter":"datum.s==='Emission'"}],"mark":{"type":"errorbar","ticks":false,"rule":{"strokeWidth":21,"strokeCap":"round","opacity":0.3,"color":"#000"}},"encoding":{
   "x":{"field":"T","type":"quantitative","title":null,"scale":{"domain":[-25,325],"nice":false,"zero":false},"axis":{"orient":"bottom","values":[0,50,100,150,200,250,300],"labels":false,"tickSize":-5,"title":null}},
   "y":{"field":"E","type":"quantitative","title":"Energy (eV)","scale":{"domain":[1.425,1.63],"nice":false,"zero":false},"axis":{"orient":"left","values":[1.45,1.5,1.55,1.6],"format":".2f","labelFontSize":25,"tickSize":-5,"labelPadding":15,"title":"Energy (eV)","titleFontSize":28,"titleX":-75,"titleY":166,"titleBaseline":"alphabetic","titleAlign":"center","titleAngle":-90}},
   "yError":{"field":"err"}}},
  {"transform":[{"filter":"datum.s==='Emission'"}],"mark":{"type":"point","filled":false,"strokeWidth":4.5,"size":60,"opacity":1},"encoding":{"x":{"field":"T","type":"quantitative","title":null},"y":{"field":"E","type":"quantitative","title":"Energy (eV)"},"color":{"field":"s","type":"nominal","scale":{"domain":["Emission","Absorption"],"range":["#000","#f00"]},"legend":null}}},
  {"transform":[{"filter":"datum.s==='Absorption'"}],"mark":{"type":"errorbar","ticks":false,"rule":{"strokeWidth":21,"strokeCap":"round","opacity":0.3,"color":"#f00"}},"encoding":{"x":{"field":"T","type":"quantitative","title":null},"y":{"field":"E","type":"quantitative","title":"Energy (eV)"},"yError":{"field":"err"}}},
  {"transform":[{"filter":"datum.s==='Absorption'"}],"mark":{"type":"point","filled":false,"strokeWidth":4.5,"size":60,"opacity":1},"encoding":{"x":{"field":"T","type":"quantitative","title":null},"y":{"field":"E","type":"quantitative","title":"Energy (eV)"},"color":{"field":"s","type":"nominal","scale":{"domain":["Emission","Absorption"],"range":["#000","#f00"]},"legend":null}}},
  {"transform":[{"aggregate":[{"op":"count","as":"n"}]}],"mark":{"type":"text","text":"FAMA","fontSize":26},"encoding":{"x":{"datum":66.2},"y":{"datum":1.4648}}},
  {"transform":[{"aggregate":[{"op":"count","as":"n"}]}],"mark":{"type":"text","text":"(b)","fontSize":34,"font":"Lato"},"encoding":{"x":{"datum":137.8},"y":{"datum":1.462}}}
 ]
 },
 {"data":{"name":"b"},"transform":[{"aggregate":[{"op":"count","as":"n"}]}],"mark":{"type":"point","opacity":0},"encoding":{
  "x":{"datum":0,"type":"quantitative","scale":{"domain":[-25,325],"nice":false,"zero":false},"axis":{"orient":"top","values":[0,50,100,150,200,250,300],"labels":false,"tickSize":-5,"title":null}},
  "y":{"datum":1.5,"type":"quantitative","scale":{"domain":[1.425,1.63],"nice":false,"zero":false},"axis":{"orient":"right","values":[1.425,1.45,1.475,1.5,1.525,1.55,1.575,1.6,1.625],"labels":false,"tickSize":-5,"title":null}}}},
 {"data":{"name":"b"},"transform":[{"aggregate":[{"op":"count","as":"n"}]}],"mark":{"type":"point","opacity":0},"encoding":{
  "y":{"datum":1.5,"type":"quantitative","scale":{"domain":[1.425,1.63],"nice":false,"zero":false},"axis":{"orient":"left","values":[1.425,1.475,1.525,1.575,1.625],"labels":false,"tickSize":-5,"title":null}}}}
]
},
{
"width":408,"height":359,
"resolve":{"scale":{"x":"independent","y":"independent"},"axis":{"x":"independent","y":"independent"}},
"layer":[
 {
 "data":{"values":[
  {"c":"PL","E":1.349,"I":-0.01},{"c":"PL","E":1.384,"I":-0.01},{"c":"PL","E":1.401,"I":0.007},{"c":"PL","E":1.4157,"I":0.073},{"c":"PL","E":1.427,"I":0.173},{"c":"PL","E":1.436,"I":0.233},{"c":"PL","E":1.4436,"I":0.247},{"c":"PL","E":1.4506,"I":0.213},{"c":"PL","E":1.459,"I":0.19},{"c":"PL","E":1.468,"I":0.34},{"c":"PL","E":1.474,"I":0.607},{"c":"PL","E":1.4797,"I":0.873},{"c":"PL","E":1.4837,"I":0.99},{"c":"PL","E":1.487,"I":0.94},{"c":"PL","E":1.491,"I":0.64},{"c":"PL","E":1.4953,"I":0.273},{"c":"PL","E":1.5,"I":0.073},{"c":"PL","E":1.5087,"I":0.007},{"c":"PL","E":1.523,"I":-0.01},{"c":"PL","E":1.6035,"I":-0.01},
  {"c":"ABS","E":1.427,"I":0.057},{"c":"ABS","E":1.4535,"I":0.067},{"c":"ABS","E":1.471,"I":0.08},{"c":"ABS","E":1.4797,"I":0.14},{"c":"ABS","E":1.4855,"I":0.473},{"c":"ABS","E":1.491,"I":0.807},{"c":"ABS","E":1.497,"I":0.99},{"c":"ABS","E":1.5017,"I":0.957},{"c":"ABS","E":1.5087,"I":0.84},{"c":"ABS","E":1.5174,"I":0.74},{"c":"ABS","E":1.529,"I":0.68},{"c":"ABS","E":1.5407,"I":0.68},{"c":"ABS","E":1.558,"I":0.697},{"c":"ABS","E":1.5756,"I":0.713},{"c":"ABS","E":1.593,"I":0.723}
 ]},
 "layer":[
  {"transform":[{"filter":"datum.c==='PL'"}],"mark":{"type":"line","color":"#000","strokeWidth":1.3},"encoding":{
   "x":{"field":"E","type":"quantitative","scale":{"domain":[1.347,1.6035],"range":[0,147.3],"nice":false,"zero":false},"axis":{"orient":"bottom","offset":-228,"values":[1.4,1.5,1.6],"format":".1f","labelFontSize":11,"tickSize":3,"labelPadding":1,"title":"Energy(eV)","titleFontSize":15,"titleY":32,"titleBaseline":"alphabetic"}},
   "y":{"field":"I","type":"quantitative","scale":{"domain":[-0.11,1.2],"range":[131,0],"nice":false,"zero":false},"axis":{"orient":"right","offset":-260.7,"values":[0,0.5,1],"format":".1f","labelFontSize":10.5,"tickSize":3,"labelPadding":1,"title":null}}}},
  {"transform":[{"filter":"datum.c==='ABS'"}],"mark":{"type":"line","color":"#f00","strokeWidth":1.3},"encoding":{"x":{"field":"E","type":"quantitative"},"y":{"field":"I","type":"quantitative"}}},
  {"transform":[{"aggregate":[{"op":"count","as":"n"}]}],"mark":{"type":"rect","fill":"transparent","stroke":"#000","strokeWidth":1.2},"encoding":{"x":{"datum":1.347},"x2":{"datum":1.6035},"y":{"datum":-0.11},"y2":{"datum":1.2}}},
  {"transform":[{"aggregate":[{"op":"count","as":"n"}]}],"mark":{"type":"text","text":"4 K","fontSize":15},"encoding":{"x":{"datum":1.3895},"y":{"datum":0.99}}},
  {"transform":[{"aggregate":[{"op":"count","as":"n"}]}],"mark":{"type":"text","text":"PL","fontSize":14},"encoding":{"x":{"datum":1.439},"y":{"datum":0.64}}},
  {"transform":[{"aggregate":[{"op":"count","as":"n"}]}],"mark":{"type":"text","text":"ABS","fontSize":14,"color":"#f00"},"encoding":{"x":{"datum":1.558},"y":{"datum":0.547}}}
 ]
 },
 {
 "data":{"values":[
  {"c":"PL","E":1.245,"I":0},{"c":"PL","E":1.408,"I":0.008},{"c":"PL","E":1.449,"I":0.07},{"c":"PL","E":1.4735,"I":0.184},{"c":"PL","E":1.493,"I":0.414},{"c":"PL","E":1.509,"I":0.72},{"c":"PL","E":1.5224,"I":0.95},{"c":"PL","E":1.5306,"I":0.99},{"c":"PL","E":1.542,"I":0.95},{"c":"PL","E":1.555,"I":0.72},{"c":"PL","E":1.5714,"I":0.375},{"c":"PL","E":1.591,"I":0.146},{"c":"PL","E":1.62,"I":0.038},{"c":"PL","E":1.6694,"I":0},{"c":"PL","E":1.893,"I":0},
  {"c":"ABS","E":1.3265,"I":0},{"c":"ABS","E":1.408,"I":0.011},{"c":"ABS","E":1.457,"I":0.03},{"c":"ABS","E":1.498,"I":0.07},{"c":"ABS","E":1.5306,"I":0.184},{"c":"ABS","E":1.547,"I":0.337},{"c":"ABS","E":1.5714,"I":0.47},{"c":"ABS","E":1.604,"I":0.53},{"c":"ABS","E":1.653,"I":0.605},{"c":"ABS","E":1.6857,"I":0.68},{"c":"ABS","E":1.718,"I":0.74},{"c":"ABS","E":1.751,"I":0.835},{"c":"ABS","E":1.784,"I":0.93},{"c":"ABS","E":1.8,"I":0.996}
 ]},
 "layer":[
  {"transform":[{"filter":"datum.c==='PL'"}],"mark":{"type":"line","color":"#000","strokeWidth":1.3},"encoding":{
   "x":{"field":"E","type":"quantitative","scale":{"domain":[1.24,1.893],"range":[273.7,407],"nice":false,"zero":false},"axis":{"orient":"bottom","offset":-28,"values":[1.4,1.6,1.8],"format":".1f","labelFontSize":9.5,"tickSize":3,"labelPadding":1,"title":"Energy(eV)","titleFontSize":14,"titleY":26,"titleBaseline":"alphabetic"}},
   "y":{"field":"I","type":"quantitative","scale":{"domain":[-0.103,1.2],"range":[331,217.7],"nice":false,"zero":false},"axis":{"orient":"left","offset":-273.7,"values":[0,0.5,1],"format":".1f","labelFontSize":8.5,"tickSize":2,"labelPadding":1,"title":null}}}},
  {"transform":[{"filter":"datum.c==='ABS'"}],"mark":{"type":"line","color":"#f00","strokeWidth":1.3},"encoding":{"x":{"field":"E","type":"quantitative"},"y":{"field":"I","type":"quantitative"}}},
  {"transform":[{"aggregate":[{"op":"count","as":"n"}]}],"mark":{"type":"rect","fill":"transparent","stroke":"#000","strokeWidth":1.2},"encoding":{"x":{"datum":1.24},"x2":{"datum":1.893},"y":{"datum":-0.103},"y2":{"datum":1.2}}},
  {"transform":[{"aggregate":[{"op":"count","as":"n"}]}],"mark":{"type":"text","text":"295 K","fontSize":16},"encoding":{"x":{"datum":1.3755},"y":{"datum":1.027}}},
  {"transform":[{"aggregate":[{"op":"count","as":"n"}]}],"mark":{"type":"text","text":"PL","fontSize":14},"encoding":{"x":{"datum":1.408},"y":{"datum":0.452}}},
  {"transform":[{"aggregate":[{"op":"count","as":"n"}]}],"mark":{"type":"text","text":"ABS","fontSize":14,"color":"#f00"},"encoding":{"x":{"datum":1.7216},"y":{"datum":0.452}}}
 ]
 },
 {
 "data":{"name":"c"},
 "layer":[
  {"transform":[{"filter":"datum.s==='Emission'"}],"mark":{"type":"errorbar","ticks":false,"rule":{"strokeWidth":21,"strokeCap":"round","opacity":0.3,"color":"#000"}},"encoding":{
   "x":{"field":"T","type":"quantitative","title":null,"scale":{"domain":[-25,325],"nice":false,"zero":false},"axis":{"orient":"bottom","values":[0,50,100,150,200,250,300],"labels":false,"tickSize":-5,"title":null}},
   "y":{"field":"E","type":"quantitative","title":"Energy (eV)","scale":{"domain":[1.4,1.64],"nice":false,"zero":false},"axis":{"orient":"left","values":[1.44,1.5,1.56,1.62],"format":".2f","labelFontSize":25,"tickSize":-5,"labelPadding":15,"title":"Energy (eV)","titleFontSize":28,"titleX":-75,"titleY":166,"titleBaseline":"alphabetic","titleAlign":"center","titleAngle":-90}},
   "yError":{"field":"err"}}},
  {"transform":[{"filter":"datum.s==='Emission'"}],"mark":{"type":"point","filled":false,"strokeWidth":4.5,"size":60,"opacity":1},"encoding":{"x":{"field":"T","type":"quantitative","title":null},"y":{"field":"E","type":"quantitative","title":"Energy (eV)"},"color":{"field":"s","type":"nominal","scale":{"domain":["Emission","Absorption"],"range":["#000","#f00"]},"legend":null}}},
  {"transform":[{"filter":"datum.s==='Absorption'"}],"mark":{"type":"errorbar","ticks":false,"rule":{"strokeWidth":21,"strokeCap":"round","opacity":0.3,"color":"#f00"}},"encoding":{"x":{"field":"T","type":"quantitative","title":null},"y":{"field":"E","type":"quantitative","title":"Energy (eV)"},"yError":{"field":"err"}}},
  {"transform":[{"filter":"datum.s==='Absorption'"}],"mark":{"type":"point","filled":false,"strokeWidth":4.5,"size":60,"opacity":1},"encoding":{"x":{"field":"T","type":"quantitative","title":null},"y":{"field":"E","type":"quantitative","title":"Energy (eV)"},"color":{"field":"s","type":"nominal","scale":{"domain":["Emission","Absorption"],"range":["#000","#f00"]},"legend":null}}},
  {"transform":[{"aggregate":[{"op":"count","as":"n"}]}],"mark":{"type":"text","text":"PbI","fontSize":26},"encoding":{"x":{"datum":57.6},"y":{"datum":1.4467}}},
  {"transform":[{"aggregate":[{"op":"count","as":"n"}]}],"mark":{"type":"text","text":"(c)","fontSize":34,"font":"Lato"},"encoding":{"x":{"datum":137.8},"y":{"datum":1.4333}}}
 ]
 },
 {"data":{"name":"c"},"transform":[{"aggregate":[{"op":"count","as":"n"}]}],"mark":{"type":"point","opacity":0},"encoding":{
  "x":{"datum":0,"type":"quantitative","scale":{"domain":[-25,325],"nice":false,"zero":false},"axis":{"orient":"top","values":[0,50,100,150,200,250,300],"labels":false,"tickSize":-5,"title":null}},
  "y":{"datum":1.5,"type":"quantitative","scale":{"domain":[1.4,1.64],"nice":false,"zero":false},"axis":{"orient":"right","values":[1.41,1.44,1.47,1.5,1.53,1.56,1.59,1.62],"labels":false,"tickSize":-5,"title":null}}}},
 {"data":{"name":"c"},"transform":[{"aggregate":[{"op":"count","as":"n"}]}],"mark":{"type":"point","opacity":0},"encoding":{
  "y":{"datum":1.5,"type":"quantitative","scale":{"domain":[1.4,1.64],"nice":false,"zero":false},"axis":{"orient":"left","values":[1.41,1.47,1.53,1.59],"labels":false,"tickSize":-5,"title":null}}}}
]
},
{
"width":408,"height":359,
"resolve":{"scale":{"x":"independent","y":"independent"},"axis":{"x":"independent","y":"independent"}},
"layer":[
 {
 "data":{"values":[
  {"c":"PL","E":0.8126,"I":0},{"c":"PL","E":0.929,"I":0},{"c":"PL","E":0.987,"I":0.022},{"c":"PL","E":1.0165,"I":0.107},{"c":"PL","E":1.038,"I":0.3},{"c":"PL","E":1.057,"I":0.584},{"c":"PL","E":1.0718,"I":0.865},{"c":"PL","E":1.082,"I":1.0},{"c":"PL","E":1.092,"I":0.865},{"c":"PL","E":1.1068,"I":0.584},{"c":"PL","E":1.121,"I":0.275},{"c":"PL","E":1.14,"I":0.079},{"c":"PL","E":1.169,"I":0.017},{"c":"PL","E":1.22,"I":0},{"c":"PL","E":1.5,"I":0},
  {"c":"ABS","E":0.808,"I":0.374},{"c":"ABS","E":0.871,"I":0.444},{"c":"ABS","E":0.944,"I":0.528},{"c":"ABS","E":1.002,"I":0.612},{"c":"ABS","E":1.0456,"I":0.697},{"c":"ABS","E":1.0747,"I":0.753},{"c":"ABS","E":1.0966,"I":0.767},{"c":"ABS","E":1.1184,"I":0.725},{"c":"ABS","E":1.1476,"I":0.612},{"c":"ABS","E":1.1767,"I":0.514},{"c":"ABS","E":1.1985,"I":0.494},{"c":"ABS","E":1.22,"I":0.514},{"c":"ABS","E":1.2495,"I":0.612},{"c":"ABS","E":1.2786,"I":0.753},{"c":"ABS","E":1.3223,"I":0.879},{"c":"ABS","E":1.366,"I":0.935},{"c":"ABS","E":1.4242,"I":0.963},{"c":"ABS","E":1.468,"I":0.99},{"c":"ABS","E":1.5,"I":0.99}
 ]},
 "layer":[
  {"transform":[{"filter":"datum.c==='PL'"}],"mark":{"type":"line","color":"#000","strokeWidth":1.3},"encoding":{
   "x":{"field":"E","type":"quantitative","scale":{"domain":[0.808,1.5],"range":[0,158.7],"nice":false,"zero":false},"axis":{"orient":"bottom","offset":-214.3,"values":[0.9,1.2,1.5],"format":".1f","labelFontSize":11.5,"tickSize":3,"labelPadding":1,"title":"Energy(eV)","titleFontSize":16,"titleY":30.7,"titleBaseline":"alphabetic"}},
   "y":{"field":"I","type":"quantitative","scale":{"domain":[-0.104,1.107],"range":[144.7,0],"nice":false,"zero":false},"axis":{"orient":"right","offset":-249.3,"values":[0,0.5,1],"format":".1f","labelFontSize":11,"tickSize":3,"labelPadding":1,"title":null}}}},
  {"transform":[{"filter":"datum.c==='ABS'"}],"mark":{"type":"line","color":"#f00","strokeWidth":1.3},"encoding":{"x":{"field":"E","type":"quantitative"},"y":{"field":"I","type":"quantitative"}}},
  {"transform":[{"aggregate":[{"op":"count","as":"n"}]}],"mark":{"type":"rect","fill":"transparent","stroke":"#000","strokeWidth":1.2},"encoding":{"x":{"datum":0.808},"x2":{"datum":1.5},"y":{"datum":-0.104},"y2":{"datum":1.107}}},
  {"transform":[{"aggregate":[{"op":"count","as":"n"}]}],"mark":{"type":"text","text":"4 K","fontSize":18},"encoding":{"x":{"datum":0.9},"y":{"datum":0.935}}},
  {"transform":[{"aggregate":[{"op":"count","as":"n"}]}],"mark":{"type":"text","text":"PL","fontSize":18},"encoding":{"x":{"datum":0.9728},"y":{"datum":0.374}}},
  {"transform":[{"aggregate":[{"op":"count","as":"n"}]}],"mark":{"type":"text","text":"ABS","fontSize":18,"color":"#f00"},"encoding":{"x":{"datum":1.264},"y":{"datum":0.393}}}
 ]
 },
 {
 "data":{"values":[
  {"c":"PL","E":0.811,"I":0.006},{"c":"PL","E":0.992,"I":0},{"c":"PL","E":1.061,"I":0.021},{"c":"PL","E":1.1028,"I":0.111},{"c":"PL","E":1.1306,"I":0.292},{"c":"PL","E":1.1514,"I":0.533},{"c":"PL","E":1.1694,"I":0.774},{"c":"PL","E":1.186,"I":0.955},{"c":"PL","E":1.197,"I":0.99},{"c":"PL","E":1.208,"I":0.955},{"c":"PL","E":1.225,"I":0.774},{"c":"PL","E":1.2444,"I":0.533},{"c":"PL","E":1.2667,"I":0.292},{"c":"PL","E":1.2944,"I":0.111},{"c":"PL","E":1.332,"I":0.021},{"c":"PL","E":1.3806,"I":0},{"c":"PL","E":1.4875,"I":0},
  {"c":"ABS","E":0.804,"I":0.322},{"c":"ABS","E":0.8806,"I":0.398},{"c":"ABS","E":0.964,"I":0.473},{"c":"ABS","E":1.0333,"I":0.557},{"c":"ABS","E":1.1028,"I":0.654},{"c":"ABS","E":1.158,"I":0.72},{"c":"ABS","E":1.2139,"I":0.744},{"c":"ABS","E":1.2486,"I":0.744},{"c":"ABS","E":1.2694,"I":0.774},{"c":"ABS","E":1.311,"I":0.834},{"c":"ABS","E":1.3667,"I":0.88},{"c":"ABS","E":1.422,"I":0.91},{"c":"ABS","E":1.4708,"I":0.94},{"c":"ABS","E":1.4875,"I":0.925}
 ]},
 "layer":[
  {"transform":[{"filter":"datum.c==='PL'"}],"mark":{"type":"line","color":"#000","strokeWidth":1.3},"encoding":{
   "x":{"field":"E","type":"quantitative","scale":{"domain":[0.804,1.4875],"range":[243,407],"nice":false,"zero":false},"axis":{"orient":"bottom","offset":-35,"values":[0.8,1.2],"format":".1f","labelFontSize":11,"tickSize":3,"labelPadding":1,"title":"Energy(eV)","titleFontSize":16,"titleY":27.4,"titleBaseline":"alphabetic"}},
   "y":{"field":"I","type":"quantitative","scale":{"domain":[-0.108,1.096],"range":[324,190.7],"nice":false,"zero":false},"axis":{"orient":"left","offset":-243,"values":[0,0.5,1],"format":".1f","labelFontSize":9,"tickSize":2,"labelPadding":1,"title":null}}}},
  {"transform":[{"filter":"datum.c==='ABS'"}],"mark":{"type":"line","color":"#f00","strokeWidth":1.3},"encoding":{"x":{"field":"E","type":"quantitative"},"y":{"field":"I","type":"quantitative"}}},
  {"transform":[{"aggregate":[{"op":"count","as":"n"}]}],"mark":{"type":"rect","fill":"transparent","stroke":"#000","strokeWidth":1.2},"encoding":{"x":{"datum":0.804},"x2":{"datum":1.4875},"y":{"datum":-0.108},"y2":{"datum":1.096}}},
  {"transform":[{"aggregate":[{"op":"count","as":"n"}]}],"mark":{"type":"text","text":"295 K","fontSize":17},"encoding":{"x":{"datum":0.929},"y":{"datum":0.955}}},
  {"transform":[{"aggregate":[{"op":"count","as":"n"}]}],"mark":{"type":"text","text":"PL","fontSize":16},"encoding":{"x":{"datum":0.9986},"y":{"datum":0.708}}},
  {"transform":[{"aggregate":[{"op":"count","as":"n"}]}],"mark":{"type":"text","text":"ABS","fontSize":17,"color":"#f00"},"encoding":{"x":{"datum":1.3875},"y":{"datum":0.708}}}
 ]
 },
 {
 "data":{"name":"d"},
 "layer":[
  {"transform":[{"filter":"datum.s==='Emission'"}],"mark":{"type":"errorbar","ticks":false,"rule":{"strokeWidth":21,"strokeCap":"round","opacity":0.3,"color":"#000"}},"encoding":{
   "x":{"field":"T","type":"quantitative","title":"Temperature (K)","scale":{"domain":[-25,325],"nice":false,"zero":false},"axis":{"orient":"bottom","values":[0,100,200,300],"labelFontSize":25,"tickSize":-5,"labelPadding":15,"title":"Temperature (K)","titleFontSize":26,"titleY":66,"titleBaseline":"alphabetic"}},
   "y":{"field":"E","type":"quantitative","title":"Energy (eV)","scale":{"domain":[0.898,1.389],"nice":false,"zero":false},"axis":{"orient":"left","values":[0.9,1,1.1,1.2,1.3],"format":".1f","labelFontSize":25,"tickSize":-5,"labelPadding":15,"title":"Energy (eV)","titleFontSize":28,"titleX":-75,"titleY":166,"titleBaseline":"alphabetic","titleAlign":"center","titleAngle":-90}},
   "yError":{"field":"err"}}},
  {"transform":[{"filter":"datum.s==='Emission'"}],"mark":{"type":"point","filled":false,"strokeWidth":4.5,"size":60,"opacity":1},"encoding":{"x":{"field":"T","type":"quantitative","title":"Temperature (K)"},"y":{"field":"E","type":"quantitative","title":"Energy (eV)"},"color":{"field":"s","type":"nominal","scale":{"domain":["Emission","Absorption"],"range":["#000","#f00"]},"legend":null}}},
  {"transform":[{"filter":"datum.s==='Absorption'"}],"mark":{"type":"errorbar","ticks":false,"rule":{"strokeWidth":21,"strokeCap":"round","opacity":0.3,"color":"#f00"}},"encoding":{"x":{"field":"T","type":"quantitative","title":"Temperature (K)"},"y":{"field":"E","type":"quantitative","title":"Energy (eV)"},"yError":{"field":"err"}}},
  {"transform":[{"filter":"datum.s==='Absorption'"}],"mark":{"type":"point","filled":false,"strokeWidth":4.5,"size":60,"opacity":1},"encoding":{"x":{"field":"T","type":"quantitative","title":"Temperature (K)"},"y":{"field":"E","type":"quantitative","title":"Energy (eV)"},"color":{"field":"s","type":"nominal","scale":{"domain":["Emission","Absorption"],"range":["#000","#f00"]},"legend":null}}},
  {"transform":[{"aggregate":[{"op":"count","as":"n"}]}],"mark":{"type":"text","text":"PbSn","fontSize":31},"encoding":{"x":{"datum":67.7},"y":{"datum":0.9658}}},
  {"transform":[{"aggregate":[{"op":"count","as":"n"}]}],"mark":{"type":"text","text":"(d)","fontSize":36,"font":"Lato"},"encoding":{"x":{"datum":132},"y":{"datum":0.9666}}}
 ]
 },
 {"data":{"name":"d"},"transform":[{"aggregate":[{"op":"count","as":"n"}]}],"mark":{"type":"point","opacity":0},"encoding":{
  "x":{"datum":0,"type":"quantitative","scale":{"domain":[-25,325],"nice":false,"zero":false},"axis":{"orient":"top","values":[0,50,100,150,200,250,300],"labels":false,"tickSize":-5,"title":null}},
  "y":{"datum":1.1,"type":"quantitative","scale":{"domain":[0.898,1.389],"nice":false,"zero":false},"axis":{"orient":"right","values":[0.9,0.95,1,1.05,1.1,1.15,1.2,1.25,1.3,1.35],"labels":false,"tickSize":-5,"title":null}}}},
 {"data":{"name":"d"},"transform":[{"aggregate":[{"op":"count","as":"n"}]}],"mark":{"type":"point","opacity":0},"encoding":{
  "x":{"datum":0,"type":"quantitative","scale":{"domain":[-25,325],"nice":false,"zero":false},"axis":{"orient":"bottom","values":[50,150,250],"labels":false,"tickSize":-5,"title":null}},
  "y":{"datum":1.1,"type":"quantitative","scale":{"domain":[0.898,1.389],"nice":false,"zero":false},"axis":{"orient":"left","values":[0.95,1.05,1.15,1.25,1.35],"labels":false,"tickSize":-5,"title":null}}}}
]
}
]
}
